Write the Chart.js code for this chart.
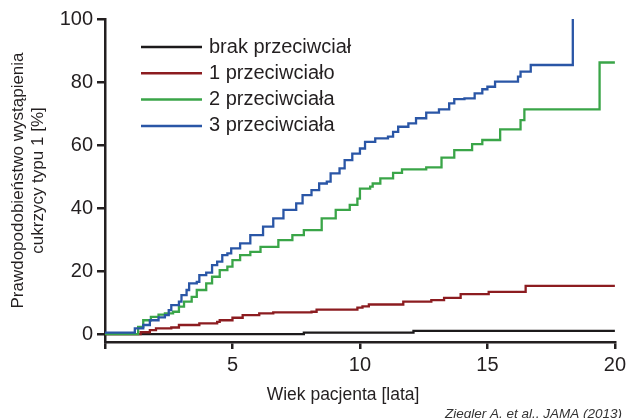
<!DOCTYPE html>
<html>
<head>
<meta charset="utf-8">
<script src="https://cdn.jsdelivr.net/npm/chart.js@4.4.1/dist/chart.umd.min.js"></script>
<style>
  html, body { margin: 0; padding: 0; background: #fff; }
  #wrap { width: 630px; height: 418px; }
</style>
</head>
<body>
<div id="wrap"><canvas id="wykres"></canvas></div>
<script>
// krzywe skumulowanego ryzyka, wiek [lata] -> %
var seriesNames = ["brak przeciwciał", "1 przeciwciało", "2 przeciwciała", "3 przeciwciała"];
var seriesColors = ["#1c1a1b", "#8c1c20", "#3aa548", "#2a56a6"];

var blackX = [0, 7.8, 12.1, 20];
var blackY = [0, 0.5, 1.0, 1.0];

var redX = [0, 1.4, 1.76, 2.0, 2.6, 2.9, 3.7, 4.4, 4.5, 5.0, 5.4, 6.05, 6.6, 8.1, 8.3, 9.9, 10.1, 10.35, 11.7, 12.8, 13.3, 13.95, 15.05, 16.5, 20];
var redY = [0, 0.6, 1.3, 1.8, 2.1, 2.9, 3.4, 3.9, 4.4, 5.2, 6.0, 6.6, 6.9, 7.1, 7.8, 8.4, 8.8, 9.4, 10.3, 10.8, 11.5, 12.7, 13.4, 15.3, 15.3];

var greenX = [0, 1.3, 1.5, 1.8, 2.1, 2.35, 2.67, 2.9, 3.1, 3.4, 3.6, 3.97, 4.2, 4.5, 4.8, 5.0, 5.3, 5.7, 6.1, 6.8, 7.35, 7.8, 8.5, 9.05, 9.6, 9.9, 10.0, 10.4, 10.5, 10.8, 11.3, 11.65, 12.6, 13.2, 13.7, 14.4, 14.8, 15.5, 16.3, 16.45, 19.4, 20];
var greenY = [0, 2.3, 4.4, 5.5, 6.2, 6.6, 7.1, 8.7, 10.3, 11.8, 14.0, 16.1, 18.2, 20.3, 21.4, 23.5, 25.1, 26.1, 27.7, 29.8, 31.4, 33.0, 36.7, 39.4, 41.0, 43.0, 46.2, 46.8, 47.8, 49.4, 51.2, 52.3, 52.9, 56.0, 58.4, 60.3, 61.6, 65.0, 67.9, 71.3, 86.2, 86.2];

var blueX = [0, 1.17, 1.5, 1.76, 2.1, 2.35, 2.5, 2.6, 2.9, 3.0, 3.2, 3.3, 3.6, 3.7, 3.97, 4.2, 4.4, 4.6, 4.8, 4.95, 5.3, 5.7, 6.2, 6.6, 7.0, 7.5, 7.75, 8.1, 8.4, 8.7, 8.85, 9.2, 9.4, 9.7, 10.0, 10.2, 10.6, 11.1, 11.3, 11.5, 11.9, 12.2, 12.6, 13.1, 13.5, 13.7, 14.1, 14.5, 14.8, 15.0, 15.3, 16.2, 16.3, 16.7, 18.35];
var blueY = [0.5, 1.8, 2.9, 4.4, 5.3, 6.0, 7.6, 9.2, 10.3, 12.4, 14.0, 16.1, 16.6, 18.7, 19.5, 21.9, 23.0, 25.1, 25.6, 27.2, 28.8, 31.4, 34.1, 36.7, 39.4, 41.5, 44.1, 45.7, 47.8, 48.4, 51.0, 52.6, 55.2, 57.3, 58.9, 61.0, 62.1, 62.7, 64.2, 65.8, 66.9, 68.5, 70.3, 71.3, 73.2, 74.6, 74.8, 76.4, 77.7, 78.5, 80.1, 81.7, 83.3, 85.4, 100];

var xTicks = [0, 5, 10, 15, 20];
var yTicks = [0, 20, 40, 60, 80, 100];

var ink = "#231f20";
var font = "'Liberation Sans', Arial, Helvetica, sans-serif";

function pts(xs, ys) {
    var out = [];
    for (var i = 0; i < xs.length; i++) {
        out.push({x: xs[i], y: ys[i]});
    }
    return out;
}

function makeSet(i, xs, ys) {
    return {
        label: seriesNames[i],
        data: pts(xs, ys),
        borderColor: seriesColors[i],
        backgroundColor: seriesColors[i],
        borderWidth: 2.3,
        pointRadius: 0,
        stepped: true,
        fill: false,
        clip: 3,
        order: 4 - i
    };
}

// legenda w polu wykresu, opis osi X (przesuniety w lewo jak w oryginale) + zrodlo
var extras = {
    id: "extras",
    afterDatasetsDraw: function (chart) {
        var c = chart.ctx;
        var a = chart.chartArea;
        c.save();
        for (var i = 0; i < seriesNames.length; i++) {
            var y = a.top + 28 + i * 26.3;
            c.strokeStyle = seriesColors[i];
            c.lineWidth = 2.5;
            c.beginPath();
            c.moveTo(a.left + 36, y);
            c.lineTo(a.left + 97, y);
            c.stroke();
            c.fillStyle = ink;
            c.font = "20px " + font;
            c.textBaseline = "middle";
            c.textAlign = "left";
            c.fillText(seriesNames[i], a.left + 104, y);
        }
        c.font = "17.5px " + font;
        c.textAlign = "center";
        c.fillText("Wiek pacjenta [lata]", a.left + 238, 395);

        c.font = "italic 13.5px " + font;
        c.fillStyle = "#333";
        c.textAlign = "right";
        c.textBaseline = "alphabetic";
        c.fillText("Ziegler A. et al., JAMA (2013)", chart.width - 8, chart.height - 0.5);
        c.restore();
    }
};

window.onload = function () {
    var ctx = document.getElementById("wykres");
    var myChart = new Chart(ctx, {
        type: 'line',
        data: {
            datasets: [
                makeSet(0, blackX, blackY),
                makeSet(1, redX, redY),
                makeSet(2, greenX, greenY),
                makeSet(3, blueX, blueY)
            ]
        },
        options: {
            responsive: true,
            maintainAspectRatio: false,
            animation: false,
            layout: {padding: {top: 19, right: 13, bottom: 0, left: 0}},
            plugins: {
                legend: {display: false},
                tooltip: {enabled: false}
            },
            scales: {
                x: {
                    type: 'linear',
                    min: 0,
                    max: 20,
                    afterBuildTicks: function (s) {
                        s.ticks = xTicks.map(function (v) { return {value: v}; });
                    },
                    afterFit: function (s) { s.height = 76; },
                    border: {display: true, color: ink, width: 2.5},
                    grid: {drawOnChartArea: false, drawTicks: true, tickLength: 7, color: ink, lineWidth: 2.5},
                    ticks: {
                        color: ink,
                        padding: 4,
                        maxRotation: 0,
                        font: {family: font, size: 20},
                        callback: function (v) { return v === 0 ? '' : v; }
                    }
                },
                y: {
                    min: -2.5,
                    max: 100,
                    afterBuildTicks: function (s) {
                        s.ticks = yTicks.map(function (v) { return {value: v}; });
                    },
                    afterFit: function (s) { s.width = 105; },
                    border: {display: true, color: ink, width: 2.5},
                    grid: {drawOnChartArea: false, drawTicks: true, tickLength: 8, color: ink, lineWidth: 2.5},
                    ticks: {
                        color: ink,
                        padding: 4,
                        font: {family: font, size: 20}
                    },
                    title: {
                        display: true,
                        text: ['Prawdopodobieństwo wystąpienia', 'cukrzycy typu 1 [%]'],
                        color: ink,
                        font: {family: font, size: 17},
                        padding: {top: 8, bottom: 0}
                    }
                }
            }
        },
        plugins: [extras]
    });
};
</script>
</body>
</html>
